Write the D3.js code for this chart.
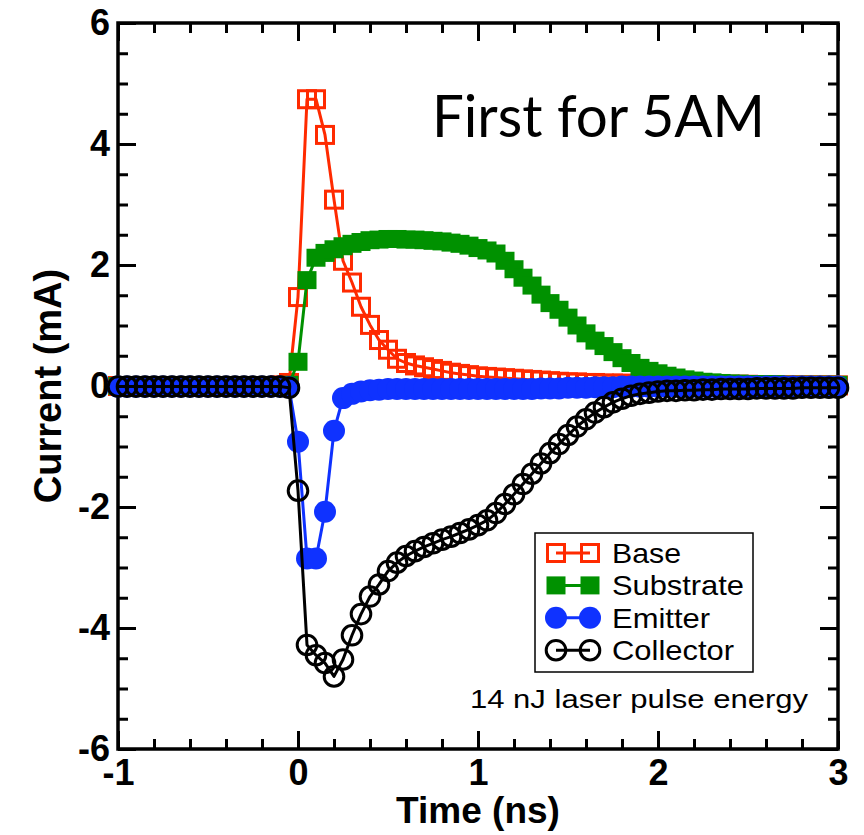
<!DOCTYPE html>
<html>
<head>
<meta charset="utf-8">
<script src="https://cdn.jsdelivr.net/npm/d3@7"></script>
<style>
  html, body { margin: 0; padding: 0; background: #fff; }
  svg { display: block; }
</style>
</head>
<body>
<svg id="chart" width="864" height="835"></svg>
<script>
// Sample times (ns)
const time = [
  -1.00, -0.95, -0.90, -0.85, -0.80, -0.75, -0.70, -0.65, -0.60, -0.55,
  -0.50, -0.45, -0.40, -0.35, -0.30, -0.25, -0.20, -0.15, -0.10, -0.05,
   0.00,  0.05,  0.10,  0.15,  0.20,  0.25,  0.30,  0.35,  0.40,  0.45,
   0.50,  0.55,  0.60,  0.65,  0.70,  0.75,  0.80,  0.85,  0.90,  0.95,
   1.00,  1.05,  1.10,  1.15,  1.20,  1.25,  1.30,  1.35,  1.40,  1.45,
   1.50,  1.55,  1.60,  1.65,  1.70,  1.75,  1.80,  1.85,  1.90,  1.95,
   2.00,  2.05,  2.10,  2.15,  2.20,  2.25,  2.30,  2.35,  2.40,  2.45,
   2.50,  2.55,  2.60,  2.65,  2.70,  2.75,  2.80,  2.85,  2.90,  2.95,
   3.00
];

// Terminal currents (mA)
const baseCurrent = [
  0, 0, 0, 0, 0, 0, 0, 0, 0, 0,
  0, 0, 0, 0, 0, 0, 0, 0, 0.01, 0.05,
  1.47, 4.74, 4.74, 4.15, 3.08, 2.07, 1.71, 1.31, 1.01, 0.76,
  0.60, 0.45, 0.38, 0.34, 0.31, 0.28, 0.25, 0.22, 0.20, 0.18,
  0.16, 0.15, 0.14, 0.13, 0.12, 0.11, 0.10, 0.09, 0.08, 0.07,
  0.06, 0.06, 0.05, 0.05, 0.04, 0.04, 0.04, 0.03, 0.03, 0.03,
  0.03, 0.02, 0.02, 0.02, 0.02, 0.02, 0.02, 0.02, 0.02, 0.02,
  0.02, 0.01, 0.01, 0.01, 0.01, 0.01, 0.01, 0.01, 0.01, 0.01,
  0.01
];
const substrateCurrent = [
  0, 0, 0, 0, 0, 0, 0, 0, 0, 0,
  0, 0, 0, 0, 0, 0, 0, 0, 0, 0.02,
  0.40, 1.75, 2.12, 2.20, 2.26, 2.31, 2.35, 2.38, 2.41, 2.42,
  2.43, 2.43, 2.42, 2.42, 2.41, 2.40, 2.39, 2.37, 2.35, 2.32,
  2.28, 2.24, 2.19, 2.07, 1.93, 1.79, 1.66, 1.51, 1.37, 1.26,
  1.13, 1.00, 0.87, 0.75, 0.66, 0.56, 0.46, 0.38, 0.30, 0.25,
  0.21, 0.17, 0.14, 0.11, 0.09, 0.07, 0.06, 0.05, 0.04, 0.04,
  0.03, 0.03, 0.03, 0.03, 0.02, 0.02, 0.02, 0.02, 0.02, 0.02,
  0.02
];
const emitterCurrent = [
  -0.01, -0.01, -0.01, -0.01, -0.01, -0.01, -0.01, -0.01, -0.01, -0.01,
  -0.01, -0.01, -0.01, -0.01, -0.01, -0.01, -0.01, -0.01, -0.01, -0.02,
  -0.92, -2.85, -2.85, -2.08, -0.74, -0.20, -0.13, -0.09, -0.07, -0.06,
  -0.05, -0.05, -0.05, -0.05, -0.05, -0.05, -0.05, -0.05, -0.05, -0.05,
  -0.05, -0.05, -0.05, -0.05, -0.05, -0.05, -0.05, -0.04, -0.04, -0.04,
  -0.03, -0.03, -0.03, -0.02, -0.02, -0.02, -0.01, -0.01, -0.01, -0.01,
  -0.01, -0.01, -0.01, -0.01, -0.01, -0.01, -0.01, -0.01, -0.01, -0.01,
  -0.01, -0.01, -0.01, -0.01, -0.01, -0.01, -0.01, -0.01, -0.01, -0.01,
  -0.01
];
const collectorCurrent = [
  -0.01, -0.01, -0.01, -0.01, -0.01, -0.01, -0.01, -0.01, -0.01, -0.01,
  -0.01, -0.01, -0.01, -0.01, -0.01, -0.01, -0.01, -0.01, -0.01, -0.03,
  -1.73, -4.28, -4.45, -4.58, -4.80, -4.52, -4.12, -3.77, -3.48, -3.28,
  -3.06, -2.92, -2.81, -2.73, -2.66, -2.60, -2.54, -2.49, -2.43, -2.37,
  -2.30, -2.22, -2.10, -1.95, -1.79, -1.62, -1.45, -1.28, -1.11, -0.96,
  -0.81, -0.67, -0.55, -0.44, -0.35, -0.27, -0.21, -0.16, -0.13, -0.11,
  -0.09, -0.08, -0.08, -0.07, -0.07, -0.06, -0.06, -0.05, -0.05, -0.05,
  -0.05, -0.04, -0.04, -0.04, -0.04, -0.04, -0.03, -0.03, -0.03, -0.03,
  -0.03
];

const seriesNames = ["Base", "Substrate", "Emitter", "Collector"];
const seriesColors = ["#ff2a00", "#009100", "#0f32ff", "#000000"];
const xTicks = [-1, 0, 1, 2, 3];
const yTicks = [-6, -4, -2, 0, 2, 4, 6];
const xMinorTicks = [-0.8, -0.6, -0.4, -0.2, 0.2, 0.4, 0.6, 0.8, 1.2, 1.4, 1.6, 1.8, 2.2, 2.4, 2.6, 2.8];
const yMinorTicks = [-5.5, -5, -4.5, -3.5, -3, -2.5, -1.5, -1, -0.5, 0.5, 1, 1.5, 2.5, 3, 3.5, 4.5, 5, 5.5];

const svg = d3.select("#chart");
const plot = { left: 118, right: 838, top: 23, bottom: 749 };

const x = d3.scaleLinear().domain([-1, 3]).range([plot.left, plot.right]);
const y = d3.scaleLinear().domain([-6, 6]).range([plot.bottom, plot.top]);

const tickFont = "'Liberation Sans', Arial, Helvetica, sans-serif";

// Axes with inward ticks on all four sides
function styleAxis(g, withLabels) {
  g.select(".domain").remove();
  g.selectAll(".tick line").attr("stroke", "#000").attr("stroke-width", 3);
  if (withLabels) {
    g.selectAll(".tick text")
      .attr("fill", "#000")
      .attr("font-family", tickFont)
      .attr("font-weight", "bold")
      .attr("font-size", 36);
  } else {
    g.selectAll(".tick text").remove();
  }
}
const fmt = d => String(d);

svg.append("g").attr("transform", `translate(0,${plot.bottom})`)
  .call(d3.axisBottom(x).tickValues(xTicks).tickSize(-18).tickSizeOuter(0).tickPadding(10).tickFormat(fmt))
  .call(g => styleAxis(g, true));
svg.append("g").attr("transform", `translate(0,${plot.bottom})`)
  .call(d3.axisBottom(x).tickValues(xMinorTicks).tickSize(-10).tickSizeOuter(0))
  .call(g => styleAxis(g, false));
svg.append("g").attr("transform", `translate(0,${plot.top})`)
  .call(d3.axisTop(x).tickValues(xTicks).tickSize(-18).tickSizeOuter(0))
  .call(g => styleAxis(g, false));
svg.append("g").attr("transform", `translate(0,${plot.top})`)
  .call(d3.axisTop(x).tickValues(xMinorTicks).tickSize(-10).tickSizeOuter(0))
  .call(g => styleAxis(g, false));

svg.append("g").attr("transform", `translate(${plot.left},0)`)
  .call(d3.axisLeft(y).tickValues(yTicks).tickSize(-18).tickSizeOuter(0).tickPadding(8).tickFormat(fmt))
  .call(g => styleAxis(g, true));
svg.append("g").attr("transform", `translate(${plot.left},0)`)
  .call(d3.axisLeft(y).tickValues(yMinorTicks).tickSize(-10).tickSizeOuter(0))
  .call(g => styleAxis(g, false));
svg.append("g").attr("transform", `translate(${plot.right},0)`)
  .call(d3.axisRight(y).tickValues(yTicks).tickSize(-18).tickSizeOuter(0))
  .call(g => styleAxis(g, false));
svg.append("g").attr("transform", `translate(${plot.right},0)`)
  .call(d3.axisRight(y).tickValues(yMinorTicks).tickSize(-10).tickSizeOuter(0))
  .call(g => styleAxis(g, false));

// Frame
svg.append("rect")
  .attr("x", plot.left).attr("y", plot.top)
  .attr("width", plot.right - plot.left).attr("height", plot.bottom - plot.top)
  .attr("fill", "none").attr("stroke", "#000").attr("stroke-width", 3.5);

// Axis titles
svg.append("text")
  .attr("x", (plot.left + plot.right) / 2).attr("y", 823)
  .attr("text-anchor", "middle")
  .attr("font-family", tickFont).attr("font-weight", "bold").attr("font-size", 37)
  .text("Time (ns)");
svg.append("text")
  .attr("transform", `translate(61,${y(0)}) rotate(-90)`)
  .attr("text-anchor", "middle")
  .attr("font-family", tickFont).attr("font-weight", "bold").attr("font-size", 38)
  .text("Current (mA)");

// Marker drawing per series style
function drawMarker(sel, kind, color) {
  if (kind === 0) {
    sel.append("rect").attr("x", -8.5).attr("y", -8.5).attr("width", 17).attr("height", 17)
      .attr("fill", "none").attr("stroke", color).attr("stroke-width", 3);
  } else if (kind === 1) {
    sel.append("rect").attr("x", -9.5).attr("y", -9).attr("width", 19).attr("height", 18)
      .attr("fill", color);
  } else if (kind === 2) {
    sel.append("circle").attr("r", 11).attr("fill", color);
  } else {
    sel.append("circle").attr("r", 9.8).attr("fill", "none").attr("stroke", color).attr("stroke-width", 3);
  }
}

const seriesValues = [baseCurrent, substrateCurrent, emitterCurrent, collectorCurrent];
const line = d3.line().x(d => x(d.t)).y(d => y(d.v));

seriesValues.forEach((vals, k) => {
  const pts = time.map((t, i) => ({ t, v: vals[i] }));
  const g = svg.append("g").attr("class", "series-" + seriesNames[k].toLowerCase());
  g.append("path").datum(pts)
    .attr("d", line)
    .attr("fill", "none")
    .attr("stroke", seriesColors[k])
    .attr("stroke-width", 3)
    .attr("stroke-linejoin", "round");
  g.selectAll("g.pt").data(pts).join("g")
    .attr("class", "pt")
    .attr("transform", d => `translate(${x(d.t)},${y(d.v)})`)
    .each(function () { drawMarker(d3.select(this), k, seriesColors[k]); });
});

// Legend
const legend = svg.append("g");
legend.append("rect")
  .attr("x", 535).attr("y", 533).attr("width", 218).attr("height", 139)
  .attr("fill", "#fff").attr("stroke", "#000").attr("stroke-width", 1.5);
const legendTextLen = [69, 132, 98, 122];
seriesNames.forEach((name, k) => {
  const cy = 553 + k * 32.4;
  legend.append("line")
    .attr("x1", 556).attr("x2", 590).attr("y1", cy).attr("y2", cy)
    .attr("stroke", seriesColors[k]).attr("stroke-width", 3);
  [556, 590].forEach(cx => {
    drawMarker(legend.append("g").attr("transform", `translate(${cx},${cy})`), k, seriesColors[k]);
  });
  legend.append("text")
    .attr("x", 612).attr("y", cy + 10)
    .attr("font-family", tickFont).attr("font-size", 28)
    .attr("textLength", legendTextLen[k]).attr("lengthAdjust", "spacingAndGlyphs")
    .text(name);
});

// Annotations
svg.append("text")
  .attr("x", 470).attr("y", 708)
  .attr("font-family", tickFont).attr("font-size", 26)
  .attr("textLength", 338).attr("lengthAdjust", "spacingAndGlyphs")
  .text("14 nJ laser pulse energy");
svg.append("text")
  .attr("x", 432).attr("y", 137)
  .attr("font-family", "Lato, 'Open Sans', sans-serif").attr("font-size", 58)
  .attr("textLength", 333).attr("lengthAdjust", "spacingAndGlyphs")
  .text("First for 5AM");
</script>
</body>
</html>
